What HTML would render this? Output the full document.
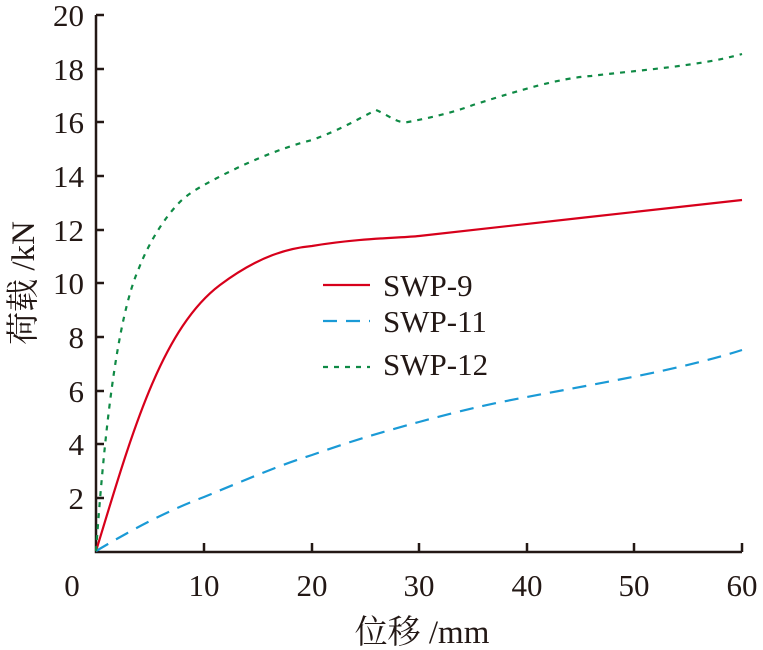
<!DOCTYPE html>
<html><head><meta charset="utf-8"><style>body{margin:0;background:#fff}svg{display:block}</style></head><body>
<svg width="763" height="650" viewBox="0 0 763 650" xmlns="http://www.w3.org/2000/svg" font-family="Liberation Serif, Noto Serif CJK SC, serif" fill="#231815">
<g stroke="#231815" stroke-width="2.5" fill="none">
<path d="M96,15 V552 H742"/>
<path d="M96,15h8 M96,69h8 M96,122h8 M96,176h8 M96,230h8 M96,283h8 M96,337h8 M96,391h8 M96,444h8 M96,498h8"/>
<path d="M204,552v-9 M312,552v-9 M419,552v-9 M527,552v-9 M634,552v-9 M742,552v-9"/>
</g>
<g font-size="31" text-anchor="end">
<text x="84" y="26">20</text><text x="84" y="80">18</text><text x="84" y="133">16</text><text x="84" y="187">14</text><text x="84" y="241">12</text><text x="84" y="294">10</text><text x="84" y="348">8</text><text x="84" y="402">6</text><text x="84" y="455">4</text><text x="84" y="509">2</text>
</g>
<g font-size="31" text-anchor="middle">
<text x="72" y="596">0</text><text x="204" y="596">10</text><text x="312" y="596">20</text><text x="419" y="596">30</text><text x="527" y="596">40</text><text x="634" y="596">50</text><text x="742" y="596">60</text>
<text x="422" y="643" font-size="33">位移 /mm</text>
<text transform="translate(34,283) rotate(-90)" font-size="33">荷载 /kN</text>
</g>
<g fill="none" stroke-width="2.2">
<path stroke="#d7001b" d="M96,551 C130,440 160,330 220,285 C260,255 290,248 312,246 C360,238 400,238 419,236 C520,224 640,212 742,200"/>
<path stroke="#1a9ad6" stroke-dasharray="14,9" d="M96,551 C140,525 170,510 204,497 C250,478 280,465 312,455 C360,438 390,430 419,422 C470,408 500,402 527,397 C600,383 680,370 742,350"/>
<path stroke="#0f8a45" stroke-dasharray="5,6" d="M96,551 C104,440 116,320 139,268 C150,240 165,218 177,205 C185,196 195,190 204,185 C240,165 280,148 312,140 C340,130 360,118 376,110 C390,116 398,124 408,122 C440,116 460,110 473,105 C520,90 560,78 591,76 C640,70 700,66 742,54"/>
</g>
<g stroke-width="2.2">
<line x1="323" y1="285" x2="370" y2="285" stroke="#d7001b"/>
<line x1="323" y1="321" x2="370" y2="321" stroke="#1a9ad6" stroke-dasharray="14,9"/>
<line x1="323" y1="367" x2="370" y2="367" stroke="#0f8a45" stroke-dasharray="5,6"/>
</g>
<g font-size="31">
<text x="383" y="296">SWP-9</text><text x="383" y="332">SWP-11</text><text x="383" y="375">SWP-12</text>
</g>
</svg>
</body></html>
